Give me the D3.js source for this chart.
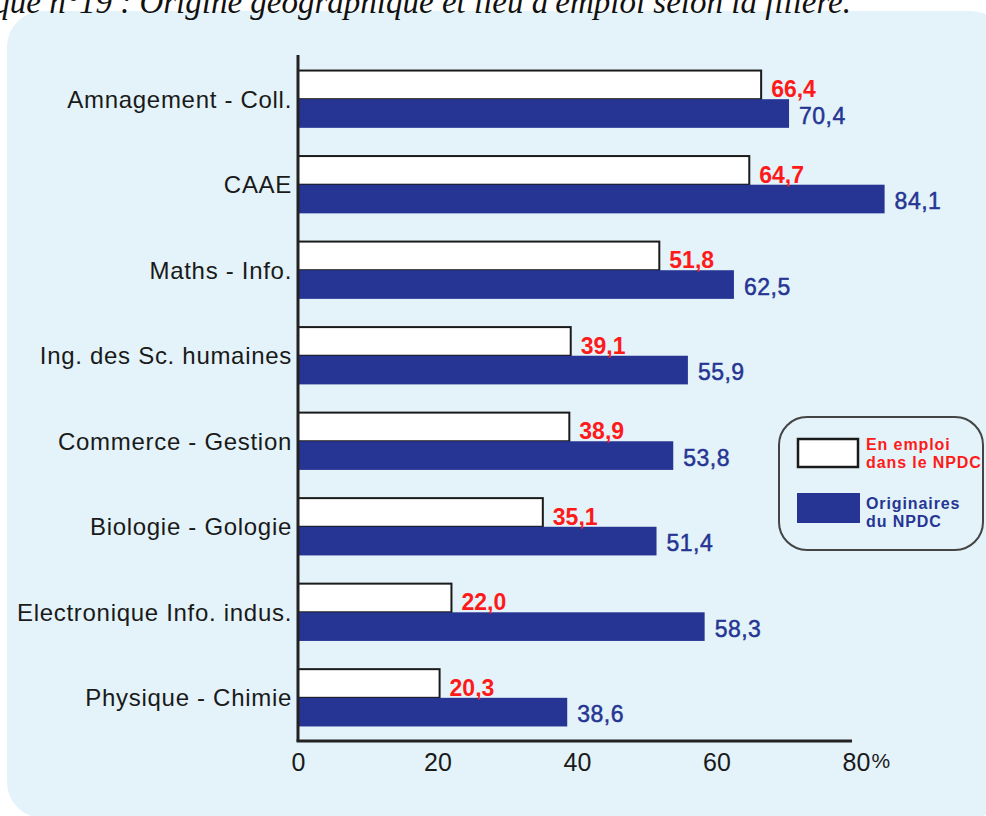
<!DOCTYPE html>
<html>
<head>
<meta charset="utf-8">
<script src="https://cdn.jsdelivr.net/npm/d3@7"></script>
<style>
  body { margin: 0; background: #fff; }
  svg { display: block; }
</style>
</head>
<body>
<div id="chart"></div>
<script>
// Data
const filieres = [
  'Amnagement - Coll.', 'CAAE', 'Maths - Info.', 'Ing. des Sc. humaines',
  'Commerce - Gestion', 'Biologie - Gologie', 'Electronique Info. indus.', 'Physique - Chimie'
];
const enEmploi = [66.4, 64.7, 51.8, 39.1, 38.9, 35.1, 22.0, 20.3];
const originaires = [70.4, 84.1, 62.5, 55.9, 53.8, 51.4, 58.3, 38.6];
const ticks = [0, 20, 40, 60, 80];
const legendLabels = [['En emploi', 'dans le NPDC'], ['Originaires', 'du NPDC']];

const W = 986, H = 816;
const BLUE = '#263593', RED = '#ff1a1a';
const SANS = '"Liberation Sans", Arial, sans-serif';

const svg = d3.select('#chart').append('svg')
  .attr('width', W).attr('height', H);

// light blue panel
svg.append('rect')
  .attr('x', 7).attr('y', 11).attr('width', 1000).attr('height', 807)
  .attr('rx', 36)
  .attr('fill', '#e3f3f9');

// title, cut off at the top left as in the scan
svg.append('text')
  .attr('x', 851).attr('y', 13)
  .attr('text-anchor', 'end')
  .style('font-family', '"Liberation Serif", serif')
  .style('font-style', 'italic')
  .style('font-size', '33px')
  .attr('fill', '#111')
  .text("Graphique n°19 : Origine géographique et lieu d'emploi selon la filière.");

const x = d3.scaleLinear().domain([0, 80]).range([298, 856]);
const y = d3.scaleBand().domain(filieres).range([56, 741]).paddingInner(0.33).paddingOuter(0.17);
const half = y.bandwidth() / 2;

const g = svg.append('g');

// bars: white ones with black outline, blue ones filled
g.selectAll('rect.emploi')
  .data(filieres)
  .join('rect')
  .attr('class', 'emploi')
  .attr('x', x(0))
  .attr('y', d => y(d))
  .attr('width', (d, i) => x(enEmploi[i]) - x(0))
  .attr('height', half)
  .attr('fill', '#fff')
  .attr('stroke', '#1a1a1a')
  .attr('stroke-width', 2);

g.selectAll('rect.orig')
  .data(filieres)
  .join('rect')
  .attr('class', 'orig')
  .attr('x', x(0))
  .attr('y', d => y(d) + half)
  .attr('width', (d, i) => x(originaires[i]) - x(0))
  .attr('height', half)
  .attr('fill', BLUE);

// value labels
const fmt = v => d3.format('.1f')(v).replace('.', ',');

g.selectAll('text.v1')
  .data(filieres)
  .join('text')
  .attr('x', (d, i) => x(enEmploi[i]) + 10)
  .attr('y', d => y(d) + half - 2)
  .style('font-family', SANS)
  .style('font-size', '23px')
  .style('font-weight', 'bold')
  .attr('fill', RED)
  .text((d, i) => fmt(enEmploi[i]));

g.selectAll('text.v2')
  .data(filieres)
  .join('text')
  .attr('x', (d, i) => x(originaires[i]) + 10)
  .attr('y', d => y(d) + 2 * half - 4)
  .style('font-family', SANS)
  .style('font-size', '23px')
  .style('letter-spacing', '0.5px')
  .attr('fill', BLUE)
  .attr('stroke', BLUE).attr('stroke-width', 0.5)
  .text((d, i) => fmt(originaires[i]));

// category labels
g.selectAll('text.cat')
  .data(filieres)
  .join('text')
  .attr('x', 292)
  .attr('y', d => y(d) + half)
  .attr('dy', '0.35em')
  .attr('text-anchor', 'end')
  .style('font-family', SANS)
  .style('font-size', '24px')
  .style('letter-spacing', '0.7px')
  .attr('fill', '#1a1a1a')
  .text(d => d);

// axes
const axisY = 741;
g.append('line')
  .attr('x1', x(0)).attr('x2', x(0)).attr('y1', 55).attr('y2', axisY)
  .attr('stroke', '#222').attr('stroke-width', 3);
g.append('line')
  .attr('x1', x(0) - 1.5).attr('x2', x(80) - 4).attr('y1', axisY).attr('y2', axisY)
  .attr('stroke', '#222').attr('stroke-width', 3);

const xAxis = d3.axisBottom(x).tickValues(ticks).tickSize(0).tickPadding(12)
  .tickFormat(d => d);
const ax = g.append('g').attr('transform', `translate(0,${axisY})`).call(xAxis);
ax.select('.domain').remove();
ax.selectAll('text')
  .style('font-family', SANS)
  .style('font-size', '25px')
  .attr('fill', '#1a1a1a');
ax.selectAll('.tick').filter(d => d === 80).append('text')
  .attr('x', 15).attr('y', 12).attr('dy', '0.71em')
  .attr('text-anchor', 'start')
  .style('font-family', SANS)
  .style('font-size', '21px')
  .attr('fill', '#1a1a1a')
  .text('%');

// legend
const lg = svg.append('g');
lg.append('rect')
  .attr('x', 779).attr('y', 417).attr('width', 204).attr('height', 133)
  .attr('rx', 28)
  .attr('fill', 'none').attr('stroke', '#444').attr('stroke-width', 2);
lg.append('rect')
  .attr('x', 798).attr('y', 439).attr('width', 60).attr('height', 28)
  .attr('fill', '#fff').attr('stroke', '#1a1a1a').attr('stroke-width', 2.5);
lg.append('rect')
  .attr('x', 797).attr('y', 493).attr('width', 63).attr('height', 30)
  .attr('fill', BLUE);

const legColors = [RED, BLUE];
const legY = [450, 509];
legendLabels.forEach((lines, k) => {
  const t = lg.append('text')
    .attr('x', 866).attr('y', legY[k])
    .style('font-family', SANS)
    .style('font-size', '16px')
    .style('letter-spacing', '0.9px')
    .style('font-weight', 'bold')
    .attr('fill', legColors[k]);
  lines.forEach((l, j) => {
    t.append('tspan').attr('x', 866).attr('dy', j ? 18 : 0).text(l);
  });
});
</script>
</body>
</html>
